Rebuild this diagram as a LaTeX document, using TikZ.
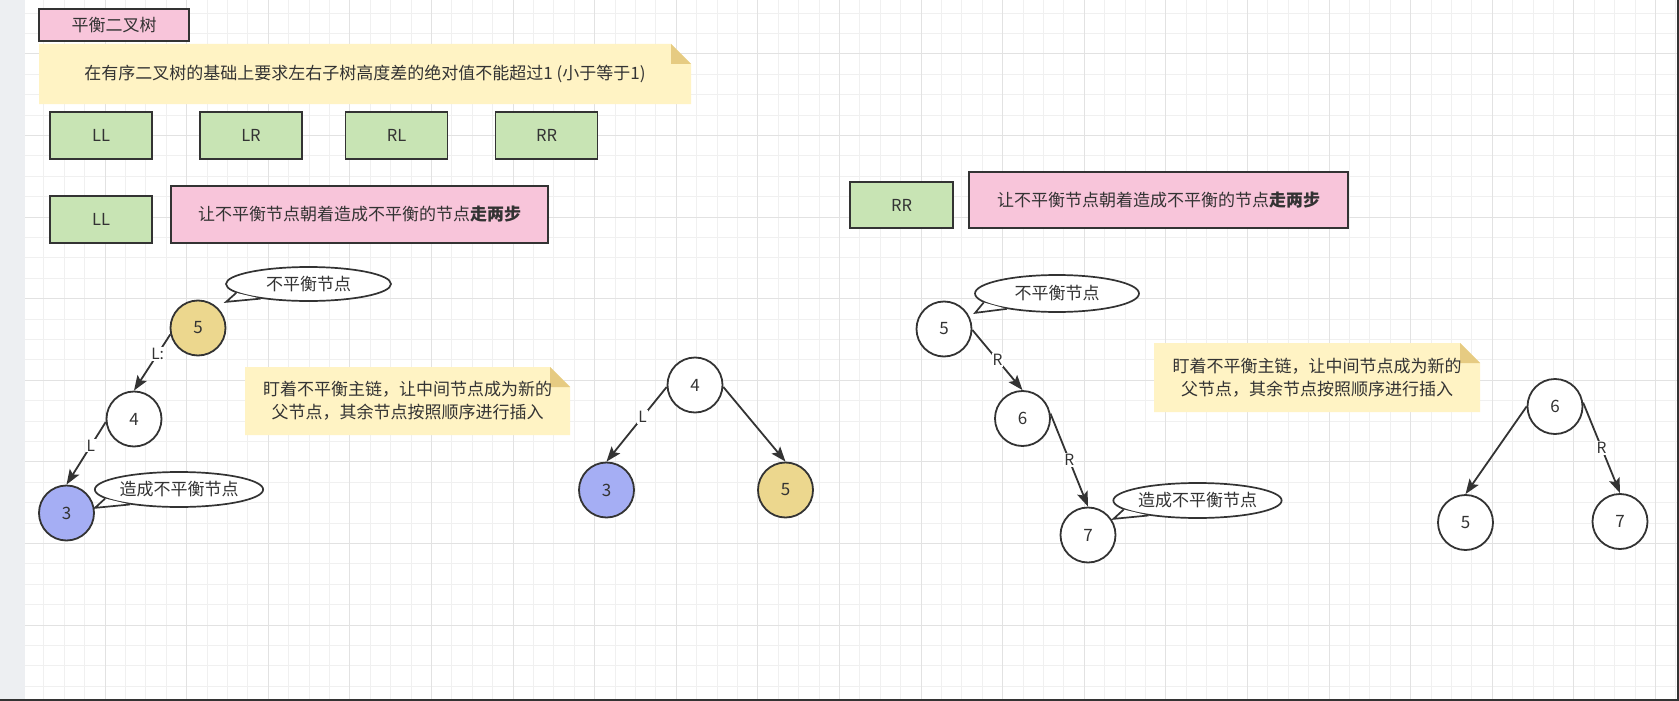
\documentclass[tikz,border=0pt]{standalone}
\usepackage{fontspec}
\setmainfont{Noto Sans CJK SC}
\usetikzlibrary{shapes.geometric,arrows.meta,calc}
\definecolor{ink}{HTML}{333333}
\definecolor{gminorc}{HTML}{F0F0F0}
\definecolor{gmajorc}{HTML}{E2E2E2}
\definecolor{stripc}{HTML}{EDEFF2}
\definecolor{pinkc}{HTML}{F8C5DA}
\definecolor{greenc}{HTML}{C8E4B4}
\definecolor{notec}{HTML}{FFF3C4}
\definecolor{foldc}{HTML}{E6CB82}
\definecolor{yelc}{HTML}{ECD78E}
\definecolor{bluec}{HTML}{A5AEF4}
\newcommand\cjkfont{\fontsize{17}{23}\selectfont}
\newcommand\latfont{\fontsize{16.5}{19}\selectfont}
\newcommand\numfont{\fontsize{17}{19}\selectfont}
\newcommand\mynote[6]{% x1 y1 x2 y2 name text
  \fill[notec] (#1,#2) -- ({#3-20},#2) -- (#3,{#2+20}) -- (#3,#4) -- (#1,#4) -- cycle;
  \fill[foldc] ({#3-20},#2) -- ({#3-20},{#2+20}) -- (#3,{#2+20}) -- cycle;
  \node[notetext] (#5) at ({(#1+#3)/2},{(#2+#4)/2}) {#6};
}
\begin{document}
\begin{tikzpicture}[x=1pt,y=-1pt,
  gminor/.style={draw=gminorc,line width=0.8pt},
  gmajor/.style={draw=gmajorc,line width=1pt},
  boxbase/.style={rectangle,draw=ink,line width=1.8pt,text=ink,inner sep=0pt},
  greenbox/.style={boxbase,fill=greenc,minimum width=102pt,minimum height=47pt,font=\latfont},
  pinkbox/.style={boxbase,fill=pinkc,font=\cjkfont},
  notetext/.style={text=ink,font=\cjkfont,align=center,inner sep=0pt},
  tnode/.style={circle,draw=ink,line width=1.8pt,fill=white,minimum size=55pt,inner sep=0pt,text=ink,font=\numfont},
  callout/.style={ellipse,draw=ink,line width=1.7pt,fill=white,inner sep=0pt,text=ink,font=\cjkfont},
  edge/.style={draw=ink,line width=1.8pt,-{Stealth[length=15pt,width=11pt,inset=3pt]}},
  elabel/.style={fill=white,inner sep=1pt,text=ink,font=\fontsize{15.5}{17}\selectfont},
]
\useasboundingbox (0,0) rectangle (1679,701);
\fill[white] (0,0) rectangle (1679,701);
% grid
\foreach \i in {0,...,81} {\draw[gminor] ({23.4+20.4*\i},0) -- ({23.4+20.4*\i},701);}
\foreach \i in {0,...,33} {\draw[gminor] (25,{13+20.4*\i}) -- (1679,{13+20.4*\i});}
\foreach \i in {0,...,20} {\draw[gmajor] ({23.4+81.6*\i},0) -- ({23.4+81.6*\i},701);}
\foreach \i in {0,...,7} {\draw[gmajor] (25,{53.8+81.6*\i}) -- (1679,{53.8+81.6*\i});}
\fill[stripc] (0,0) rectangle (25,701);
\fill[ink] (0,698.5) rectangle (1679,701);
\fill[ink] (1677,0) rectangle (1679,701);

% top part
\node[pinkbox,minimum width=150pt,minimum height=32pt] (title) at (114,25) {平衡二叉树};
\mynote{39}{44}{691}{104}{note1}{在有序二叉树的基础上要求左右子树高度差的绝对值不能超过1 (小于等于1)}
\node[greenbox] (ll) at (101,135.5) {LL};
\node[greenbox] (lr) at (251,135.5) {LR};
\node[greenbox] (rl) at (396.5,135.5) {RL};
\node[greenbox] (rr) at (546.5,135.5) {RR};
\node[greenbox] (ll2) at (101,219.5) {LL};
\node[pinkbox,minimum width=377pt,minimum height=57pt] (pink2) at (359.5,214.5) {让不平衡节点朝着造成不平衡的节点\textbf{走两步}};
\node[greenbox,minimum width=103pt,minimum height=46pt] (rr2) at (901.5,205) {RR};
\node[pinkbox,minimum width=379pt,minimum height=56pt] (pink3) at (1158.5,200) {让不平衡节点朝着造成不平衡的节点\textbf{走两步}};

% notes
\mynote{245}{367}{570}{435}{note2}{盯着不平衡主链，让中间节点成为新的\\父节点，其余节点按照顺序进行插入}
\mynote{1154}{343}{1480}{412}{note3}{盯着不平衡主链，让中间节点成为新的\\父节点，其余节点按照顺序进行插入}

% LL tree
\node[tnode,fill=yelc] (a5) at (198,328) {5};
\node[tnode] (a4) at (134,419) {4};
\node[tnode,fill=bluec] (a3) at (66.5,513) {3};
\draw[edge] (a5.193) -- node[elabel,pos=0.35] {L:} (a4.north);
\draw[edge] (a4.186) -- node[elabel,pos=0.38] {L} (a3.north);

% LL result
\node[tnode] (b4) at (695,385) {4};
\node[tnode,fill=bluec] (b3) at (606.5,490) {3};
\node[tnode,fill=yelc] (b5) at (785.5,490) {5};
\draw[edge] (b4.184) -- node[elabel,pos=0.4] {L} (b3.north);
\draw[edge] (b4.-4) -- (b5.north);

% RR tree
\node[tnode] (c5) at (944,329) {5};
\node[tnode] (c6) at (1022.5,418.5) {6};
\node[tnode] (c7) at (1088,535) {7};
\draw[edge] (c5.-2) -- node[elabel] {R} (c6.north);
\draw[edge] (c6.10) -- node[elabel] {R} (c7.north);

% RR result
\node[tnode] (d6) at (1555,406.5) {6};
\node[tnode] (d5) at (1465.5,522.5) {5};
\node[tnode] (d7) at (1620,521.5) {7};
\draw[edge] (d6.180) -- (d5.north);
\draw[edge] (d6.8) -- node[elabel] {R} (d7.north);

% callouts
\node[callout,minimum width=165pt,minimum height=34pt] (k1) at (308.5,284) {不平衡节点};
\node[callout,minimum width=166pt,minimum height=35pt] (k2) at (179,489.5) {造成不平衡节点};
\node[callout,minimum width=164pt,minimum height=37pt] (k3) at (1057,293.5) {不平衡节点};
\node[callout,minimum width=165pt,minimum height=35pt] (k4) at (1197.5,500.5) {造成不平衡节点};
\foreach \k in {k1,k2,k3,k4} {
  \coordinate (\k t) at ($(\k.west |- \k.south)+(1,0)$);
  \fill[white] (\k.187) -- (\k t) -- (\k.197) -- cycle;
  \draw[ink,line width=1.7pt,line join=miter] (\k.187) -- (\k t) -- (\k.197);
}
\end{tikzpicture}
\end{document}
